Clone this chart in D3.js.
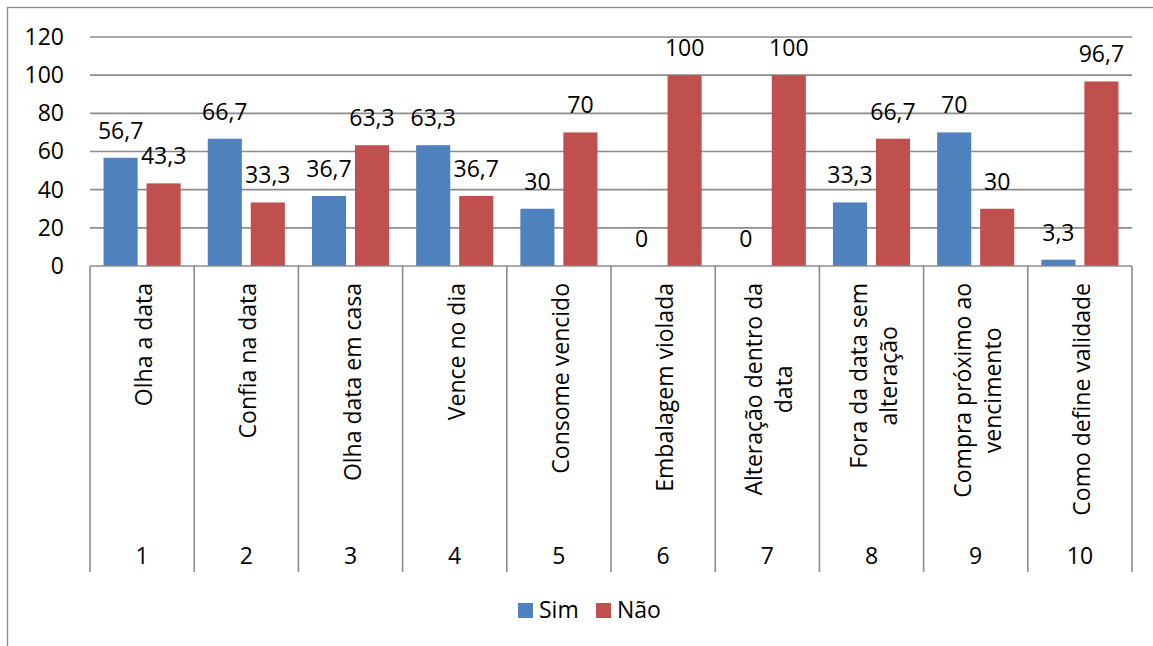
<!DOCTYPE html>
<html>
<head>
<meta charset="utf-8">
<script src="https://cdn.jsdelivr.net/npm/d3@7"></script>
<style>
  body { margin: 0; background: #fff; }
  text { font-family: "Open Sans", sans-serif; fill: #000; }
</style>
</head>
<body>
<svg id="chart" width="1153" height="646"></svg>
<script>
const codes = ['1', '2', '3', '4', '5', '6', '7', '8', '9', '10'];
const names = [
  ['Olha a data'],
  ['Confia na data'],
  ['Olha data em casa'],
  ['Vence no dia'],
  ['Consome vencido'],
  ['Embalagem violada'],
  ['Alteração dentro da', 'data'],
  ['Fora da data sem', 'alteração'],
  ['Compra próximo ao', 'vencimento'],
  ['Como define validade']
];
const sim = [56.7, 66.7, 36.7, 63.3, 30, 0, 0, 33.3, 70, 3.3];
const nao = [43.3, 33.3, 63.3, 36.7, 70, 100, 100, 66.7, 30, 96.7];
const yTicks = [0, 20, 40, 60, 80, 100, 120];
const seriesNames = ['Sim', 'Não'];
const colors = ['#4F81BD', '#C0504D'];

const svg = d3.select('#chart');
const margin = { top: 37, left: 90, right: 21, bottom: 380 };
const width = 1153 - margin.left - margin.right;
const plotH = 266 - margin.top;
const grid = '#8c8c8c';
const fs = '23px';
const fmt = v => String(v).replace('.', ',');

// outer frame
svg.append('rect').attr('x', 7.5).attr('y', 7.5).attr('width', 1160).attr('height', 660)
  .attr('fill', 'none').attr('stroke', grid).attr('stroke-width', 1.3);

const g = svg.append('g').attr('transform', 'translate(' + margin.left + ',' + margin.top + ')');

const x = d3.scaleBand().domain(codes).range([0, width]).padding(0);
const xs = d3.scaleBand().domain(seriesNames).range([0, x.bandwidth()])
  .paddingInner(0.207).paddingOuter(0.315);
const y = d3.scaleLinear().domain([0, 120]).range([plotH, 0]);

// gridlines
g.selectAll('line.grid').data(yTicks.filter(t => t > 0)).enter().append('line')
  .attr('class', 'grid')
  .attr('x1', 0).attr('x2', width)
  .attr('y1', d => y(d)).attr('y2', d => y(d))
  .attr('stroke', grid).attr('stroke-width', 1.6);

// y axis labels
const yAxis = d3.axisLeft(y).tickValues(yTicks).tickSize(0).tickPadding(26);
const ya = g.append('g').call(yAxis);
ya.select('.domain').remove();
ya.selectAll('text').style('font-size', fs).style('font-family', '"Open Sans", sans-serif');

// bars
const rows = codes.map((c, i) => ({ code: c, vals: [sim[i], nao[i]] }));
const grp = g.selectAll('g.cat').data(rows).enter().append('g')
  .attr('class', 'cat')
  .attr('transform', d => 'translate(' + x(d.code) + ',0)');

grp.selectAll('rect').data(d => d.vals.map((v, k) => ({ s: seriesNames[k], v: v, k: k })))
  .enter().append('rect')
  .attr('x', d => xs(d.s)).attr('width', xs.bandwidth())
  .attr('y', d => y(d.v)).attr('height', d => plotH - y(d.v))
  .attr('fill', d => colors[d.k]);

grp.selectAll('text.val').data(d => d.vals.map((v, k) => ({ s: seriesNames[k], v: v })))
  .enter().append('text')
  .attr('class', 'val')
  .attr('x', d => xs(d.s) + xs.bandwidth() / 2)
  .attr('y', d => y(d.v) - 19)
  .attr('text-anchor', 'middle')
  .style('font-size', fs)
  .text(d => fmt(d.v));

// category axis box
const axTop = plotH;
const axBottom = 572 - margin.top;
g.append('line').attr('x1', 0).attr('x2', width).attr('y1', axTop).attr('y2', axTop)
  .attr('stroke', grid).attr('stroke-width', 1.6);
g.selectAll('line.div').data(codes.concat(['end'])).enter().append('line')
  .attr('class', 'div')
  .attr('x1', (d, i) => i * x.step()).attr('x2', (d, i) => i * x.step())
  .attr('y1', axTop).attr('y2', axBottom)
  .attr('stroke', grid).attr('stroke-width', 1.6);

// rotated names, top aligned, lines centered
const nameTop = 283 - margin.top;
const lineGap = 30;
codes.forEach((c, i) => {
  const lines = names[i];
  const cx = x(c) + x.bandwidth() / 2;
  const ng = g.append('g').attr('transform', 'translate(' + cx + ',' + nameTop + ') rotate(-90)');
  const tmp = lines.map((t, j) => ng.append('text').style('font-size', fs)
    .attr('dominant-baseline', 'central').text(t));
  const maxL = d3.max(tmp, t => t.node().getComputedTextLength());
  const off = -(lines.length - 1) * lineGap / 2;
  tmp.forEach((t, j) => {
    t.attr('text-anchor', 'middle').attr('x', -maxL / 2).attr('y', off + j * lineGap + 1);
  });
});

// code row
g.selectAll('text.code').data(codes).enter().append('text')
  .attr('class', 'code')
  .attr('x', d => x(d) + x.bandwidth() / 2)
  .attr('y', 555 - margin.top)
  .attr('dominant-baseline', 'central')
  .attr('text-anchor', 'middle')
  .style('font-size', fs)
  .text(d => d);

// legend
const leg = svg.append('g').attr('transform', 'translate(518,603)');
const items = [{ n: 'Sim', c: colors[0], x: 0 }, { n: 'Não', c: colors[1], x: 78 }];
items.forEach(it => {
  leg.append('rect').attr('x', it.x).attr('y', 0).attr('width', 15).attr('height', 15).attr('fill', it.c);
  leg.append('text').attr('x', it.x + 21).attr('y', 15).style('font-size', fs).text(it.n);
});
</script>
</body>
</html>
